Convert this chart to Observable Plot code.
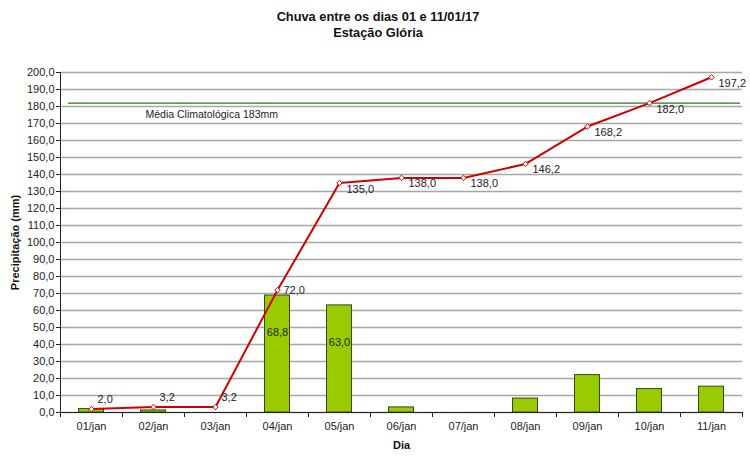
<!DOCTYPE html>
<html>
<head>
<meta charset="utf-8">
<script src="https://cdn.jsdelivr.net/npm/d3@7"></script>
<script src="https://cdn.jsdelivr.net/npm/@observablehq/plot@0.6"></script>
<style>
  body { margin: 0; background: white; font-family: "Liberation Sans", Arial, sans-serif; }
  #title { width: 750px; height: 45px; box-sizing: border-box; padding-top: 9px; text-align: center;
           font-weight: bold; font-size: 12.8px; line-height: 16px; color: #111; padding-left: 6px; }
</style>
</head>
<body>
<div id="title"><div>Chuva entre os dias 01 e 11/01/17</div><div>Estação Glória</div></div>
<div id="chart"></div>
<script>
const days = ["01/jan","02/jan","03/jan","04/jan","05/jan","06/jan","07/jan","08/jan","09/jan","10/jan","11/jan"];
const daily = [2.0, 1.2, 0, 68.8, 63.0, 3.0, 0, 8.2, 22.0, 13.8, 15.2];
const cumulative = [2.0, 3.2, 3.2, 72.0, 135.0, 138.0, 138.0, 146.2, 168.2, 182.0, 197.2];
const labelledBars = ["04/jan", "05/jan"];
const climatologyValue = 182;
const climatologyLabel = "Média Climatológica 183mm";
const yTicks = d3.range(0, 201, 10);
const yLabel = "Precipitação (mm)";
const xLabel = "Dia";

const data = days.map((day, i) => ({day, i, daily: daily[i], cumulative: cumulative[i]}));
const fmt = v => d3.format(".1f")(v).replace(".", ",");
const red = "#d10000";

const chart = Plot.plot({
  width: 750, height: 417,
  marginLeft: 60, marginRight: 8, marginTop: 27, marginBottom: 50,
  style: {fontFamily: "'Liberation Sans', Arial, sans-serif", fontSize: "11px", color: "#222", background: "white", overflow: "visible"},
  x: {domain: days, padding: 0, axis: null},
  y: {domain: [0, 200], axis: null},
  marks: [
    Plot.gridY(yTicks, {stroke: "#a6a6a6", strokeOpacity: 1, strokeWidth: 1.5}),
    Plot.axisY(yTicks, {tickFormat: fmt, tickSize: 4, tickPadding: 2, stroke: "#222", label: null, fontSize: 11}),
    Plot.axisX(days, {tickSize: 0, tickPadding: 10, label: null, fontSize: 11}),
    Plot.barY(data.filter(d => d.daily > 0), {x: "day", y: "daily", fill: "#99cc00", stroke: "#3a4712", strokeWidth: 1, insetLeft: 18.5, insetRight: 18.5}),
    Plot.ruleX(days, {x: d => d, dx: -31, y1: 0, y2: -3, stroke: "#222"}),
    Plot.ruleX([days[days.length - 1]], {x: d => d, dx: 31, y1: 0, y2: -3, stroke: "#222"}),
    Plot.frame({anchor: "left", stroke: "#222"}),
    Plot.frame({anchor: "bottom", stroke: "#222"}),
    Plot.ruleY([climatologyValue], {stroke: "#2f6f22", strokeWidth: 1.2, insetLeft: 8, insetRight: 2}),
    Plot.text([climatologyLabel], {text: d => d, frameAnchor: "left", y: climatologyValue, dx: 85, dy: 12, textAnchor: "start", fill: "#222", fontSize: 10.5}),
    Plot.text(data.filter(d => labelledBars.includes(d.day)), {x: "day", y: "daily", text: d => fmt(d.daily), dy: 37, fill: "#222", fontSize: 11}),
    Plot.line(data, {x: "day", y: "cumulative", stroke: red, strokeWidth: 2}),
    Plot.dot(data, {x: "day", y: "cumulative", symbol: "diamond2", r: 2.5, stroke: red, fill: "white", strokeWidth: 1}),
    Plot.text(data.filter(d => d.i < 3), {x: "day", y: "cumulative", text: d => fmt(d.cumulative), textAnchor: "start", dx: 6, dy: -10, fill: "#222", fontSize: 11}),
    Plot.text(data.filter(d => d.i === 3), {x: "day", y: "cumulative", text: d => fmt(d.cumulative), textAnchor: "start", dx: 6, dy: 0, fill: "#222", fontSize: 11}),
    Plot.text(data.filter(d => d.i > 3), {x: "day", y: "cumulative", text: d => fmt(d.cumulative), textAnchor: "start", dx: 7, dy: 6, fill: "#222", fontSize: 11}),
    Plot.text([yLabel], {text: d => d, frameAnchor: "left", textAnchor: "middle", rotate: -90, dx: -45, fontWeight: "bold", fill: "#111", fontSize: 11}),
    Plot.text([xLabel], {text: d => d, frameAnchor: "bottom", textAnchor: "middle", dy: 36, fontWeight: "bold", fill: "#111", fontSize: 11})
  ]
});
document.getElementById("chart").appendChild(chart);
</script>
</body>
</html>
